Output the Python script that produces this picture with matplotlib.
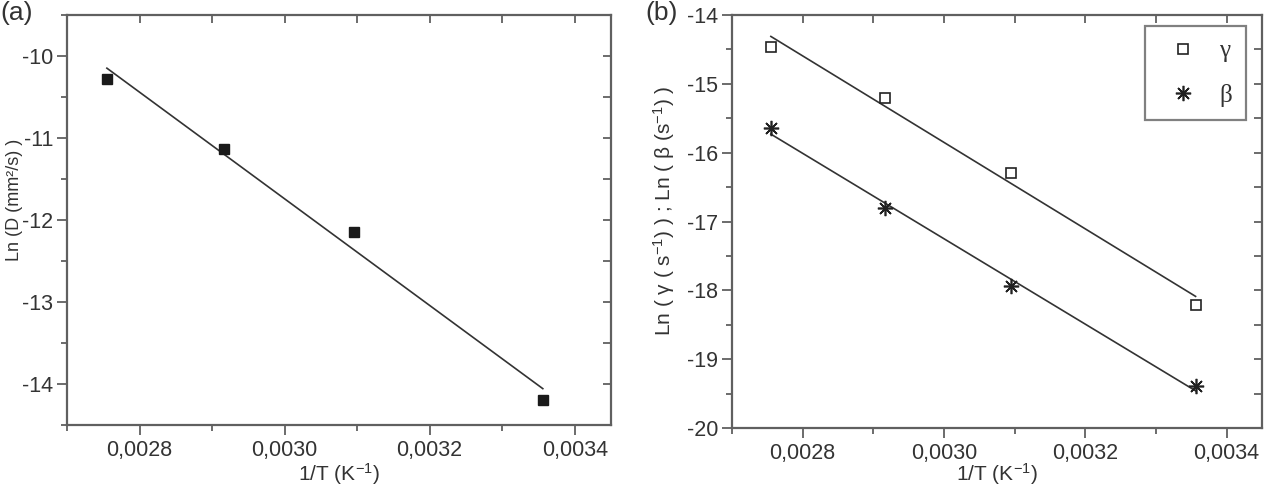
import numpy as np
import matplotlib
matplotlib.use("Agg")
import matplotlib.pyplot as plt
from matplotlib.ticker import MultipleLocator, FuncFormatter

plt.rcParams['font.family'] = ['Liberation Sans', 'DejaVu Sans']
plt.rcParams['mathtext.fontset'] = 'custom'
plt.rcParams['mathtext.rm'] = 'Liberation Sans'
plt.rcParams['mathtext.it'] = 'Liberation Sans:italic'
plt.rcParams['mathtext.bf'] = 'Liberation Sans:bold'
plt.rcParams['axes.unicode_minus'] = False

# ---- data ----
inv_T = [0.002755, 0.002916, 0.003095, 0.003356]
ln_D = [-10.28, -11.14, -12.15, -14.19]
ln_gamma = [-14.47, -15.20, -16.29, -18.21]
ln_beta = [-15.64, -16.80, -17.93, -19.39]
xticks = [0.0028, 0.0030, 0.0032, 0.0034]

W, H = 1270, 487
fig = plt.figure(figsize=(W / 100, H / 100), dpi=100)

def px_axes(l, r, t, b):
    return fig.add_axes([l / W, 1 - b / H, (r - l) / W, (b - t) / H])

ax1 = px_axes(67, 611, 15, 425)
ax2 = px_axes(732, 1262, 15, 428)

spine_c = '#606060'
text_c = '#333333'
line_c = '#333333'
fs = 15.5

fmt = FuncFormatter(lambda v, p: f"{v:.4f}".replace('.', ','))

def style(ax, ylo, yhi, bottom_px):
    ax.set_xlim(0.0027, 0.00345)
    ax.set_ylim(ylo, yhi)
    ax.set_xticks(xticks)
    ax.xaxis.set_minor_locator(MultipleLocator(0.0001))
    ax.yaxis.set_major_locator(MultipleLocator(1))
    ax.yaxis.set_minor_locator(MultipleLocator(0.5))
    ax.xaxis.set_major_formatter(fmt)
    for s in ax.spines.values():
        s.set_color(spine_c)
        s.set_linewidth(1.6)
    ax.tick_params(which='both', direction='out', color=spine_c, width=1.3,
                   labelsize=fs, labelcolor=text_c)
    ax.tick_params(which='major', length=7, pad=4)
    ax.tick_params(axis='y', which='major', pad=3)
    ax.tick_params(which='minor', length=4)
    # inward ticks on top/right
    axt = ax.secondary_xaxis('top')
    axt.xaxis.set_major_locator(MultipleLocator(0.0001))
    axt.tick_params(direction='in', length=6, color=spine_c, width=1.3,
                    labeltop=False)
    axt.spines['top'].set_visible(False)
    axr = ax.secondary_yaxis('right')
    axr.yaxis.set_major_locator(MultipleLocator(0.5))
    axr.tick_params(direction='in', length=6, color=spine_c, width=1.3,
                    labelright=False)
    axr.spines['right'].set_visible(False)
    ax.set_xlabel(r"1/T (K$^{-1}$)", fontsize=15, color=text_c)
    h_px = bottom_px - 15
    ax.xaxis.set_label_coords(0.5, -(461 - bottom_px) / h_px)

# ---- panel (a) ----
style(ax1, -14.5, -9.5, 425)
x = np.array(inv_T)
c = np.polyfit(x, ln_D, 1)
ax1.plot(x[[0, -1]], np.polyval(c, x[[0, -1]]), color=line_c, lw=1.2)
ax1.plot(inv_T, ln_D, linestyle='none', marker='s', ms=7, color='#1a1a1a')
ax1.set_ylabel("Ln (D (mm²/s) )", fontsize=13, color=text_c)
ax1.yaxis.set_label_coords(-0.080, 0.55)

# ---- panel (b) ----
style(ax2, -20, -14, 428)
cg = np.polyfit(x, ln_gamma, 1)
cb = np.polyfit(x, ln_beta, 1)
ax2.plot(x[[0, -1]], np.polyval(cg, x[[0, -1]]), color=line_c, lw=1.2)
ax2.plot(x[[0, -1]], np.polyval(cb, x[[0, -1]]), color=line_c, lw=1.2)
hg, = ax2.plot(inv_T, ln_gamma, linestyle='none', marker='s', ms=7,
               mfc='white', mec='#222222', mew=1.2, label='γ')
hb, = ax2.plot(inv_T, ln_beta, linestyle='none', marker=(8, 2, 0), ms=11,
               color='#222222', mew=1.2, label='β')
ax2.set_ylabel(r"Ln ( γ ( s$^{-1}$) ) ; Ln ( β (s$^{-1}$) )", fontsize=15,
               color=text_c)
ax2.yaxis.set_label_coords(-0.104, 0.525)

leg = ax2.legend(handles=[hg, hb], loc='upper right',
                 bbox_to_anchor=((1246 - 732) / 530, 1 - (26 - 15) / 413),
                 borderaxespad=0, frameon=True, fancybox=False,
                 prop={'family': 'Liberation Serif', 'size': 18},
                 labelspacing=0.85, handlelength=2.0, handletextpad=0.45,
                 borderpad=0.55, numpoints=1)
leg.get_frame().set_edgecolor(spine_c)
leg.get_frame().set_linewidth(1.6)
for t in leg.get_texts():
    t.set_color(text_c)

fig.text(0 / W, 1 - 13 / H, "(a)", fontsize=19, color=text_c, ha='left', va='center')
fig.text(645 / W, 1 - 13 / H, "(b)", fontsize=19, color=text_c, ha='left', va='center')

fig.savefig("out.png", dpi=100)
